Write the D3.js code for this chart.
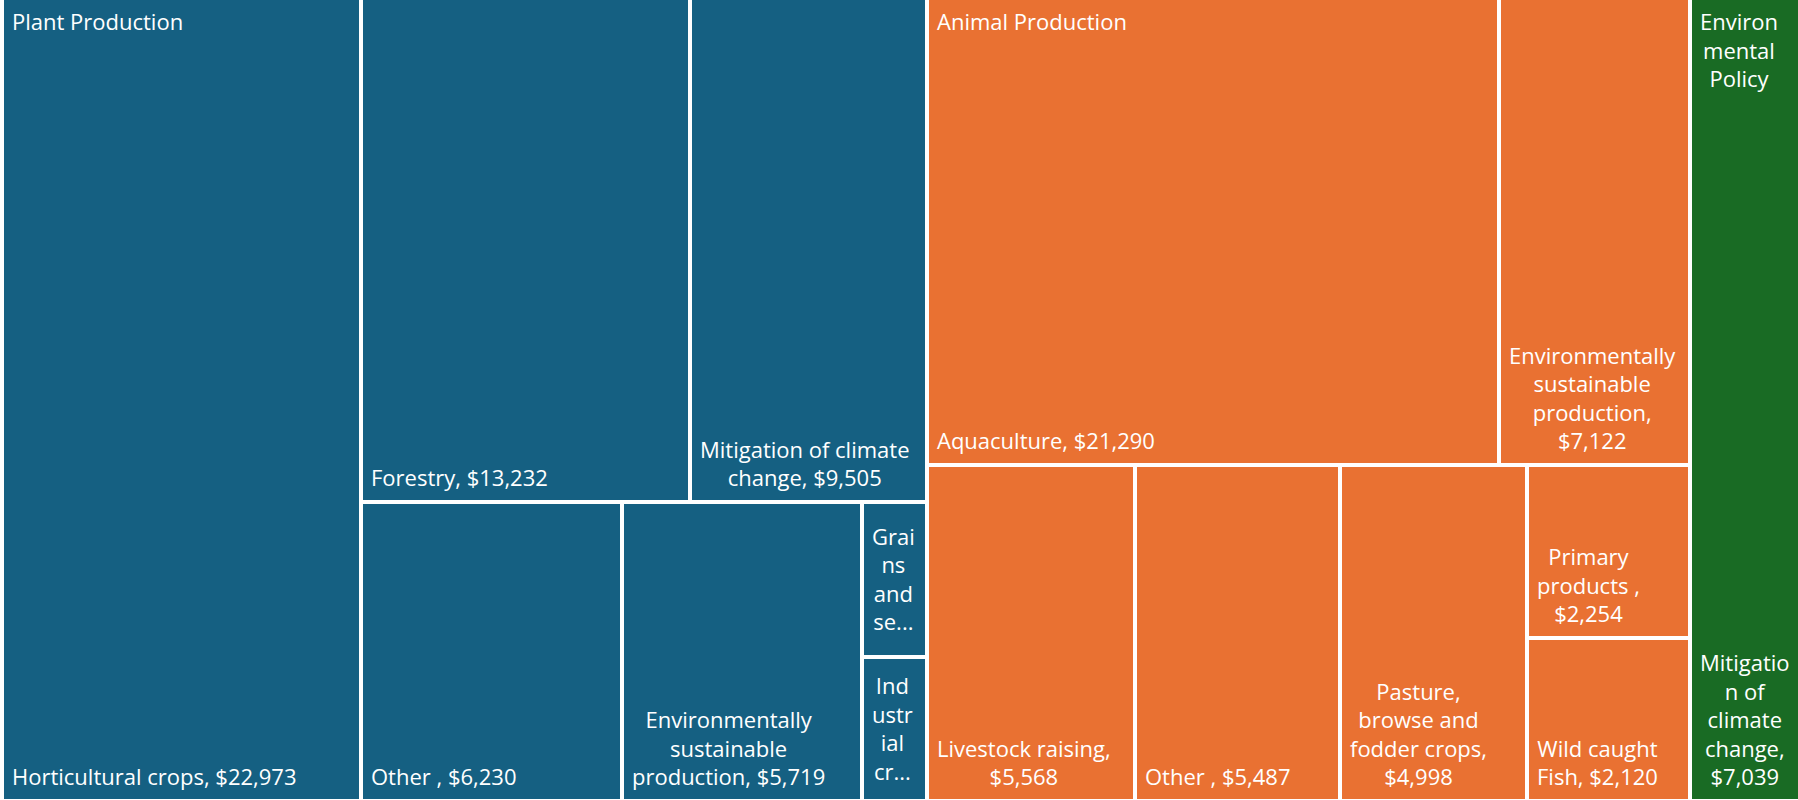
<!DOCTYPE html>
<html>
<head>
<meta charset="utf-8">
<script src="https://cdn.jsdelivr.net/npm/d3@7"></script>
<style>
  html, body { margin: 0; padding: 0; background: #ffffff; }
  svg { display: block; }
</style>
</head>
<body>
<svg id="chart" width="1798" height="800"></svg>
<script>
// ---- Data -------------------------------------------------------------
const groupNames  = ["Plant Production", "Animal Production", "Environmental Policy"];
const groupColors = ["#156082", "#E97132", "#196B24"];

const plantCategories = ["Horticultural crops", "Forestry", "Mitigation of climate change", "Other ",
                         "Environmentally sustainable production", "Grains and seeds", "Industrial crops"];
const plantValues = [22973, 13232, 9505, 6230, 5719, 806, 749];

const animalCategories = ["Aquaculture", "Environmentally sustainable production", "Livestock raising", "Other ",
                          "Pasture,\nbrowse and\nfodder crops", "Primary products ", "Wild caught Fish"];
const animalValues = [21290, 7122, 5568, 5487, 4998, 2254, 2120];

const policyCategories = ["Mitigation of climate change"];
const policyValues = [7039];

// ---- Layout settings --------------------------------------------------
const WIDTH = 1798;
const LEFT = 4, BOTTOM_EDGE = 799;
const GAP = 4;
const FONT_SIZE = 22;
const FONT = `${FONT_SIZE}px "Open Sans"`;
const LINE_HEIGHT = 28.5;
const TEXT_X = 8;          // left inset of label blocks
const WRAP_INSET = 7.5;    // horizontal room kept free on each side when wrapping
const GROUP_BASELINE = 30; // first baseline of a group title below the group top
const LEAF_BOTTOM = 14;    // last baseline of a leaf label above the cell bottom
const PREFERRED_ASPECT = 0.85; // preferred width / height of a cell

const fmt = d3.format(",");

const data = {
  name: "root",
  children: [
    { name: groupNames[0], color: groupColors[0],
      children: plantCategories.map((c, i) => ({ name: c, value: plantValues[i] })) },
    { name: groupNames[1], color: groupColors[1],
      children: animalCategories.map((c, i) => ({ name: c, value: animalValues[i] })) },
    { name: groupNames[2], color: groupColors[2],
      children: policyCategories.map((c, i) => ({ name: c, value: policyValues[i] })) }
  ]
};

// ---- Strip tiling: rows laid along the shorter side, grown while cells get closer to the preferred shape
function badness(w, h) {
  const a = (w / h) / PREFERRED_ASPECT;
  return Math.max(a, 1 / a);
}
function rowWorst(nodes, sum, total, dx, dy, across) {
  let worst = 0;
  if (across) {
    const t = dy * sum / total;
    for (const n of nodes) worst = Math.max(worst, badness(dx * n.value / sum, t));
  } else {
    const t = dx * sum / total;
    for (const n of nodes) worst = Math.max(worst, badness(t, dy * n.value / sum));
  }
  return worst;
}
function tileStrips(parent, x0, y0, x1, y1) {
  const nodes = parent.children;
  let value = parent.value, i0 = 0;
  while (i0 < nodes.length) {
    const dx = x1 - x0, dy = y1 - y0, across = dx <= dy;
    let i1 = i0 + 1, sum = nodes[i0].value;
    let best = rowWorst(nodes.slice(i0, i1), sum, value, dx, dy, across);
    while (i1 < nodes.length) {
      const s = sum + nodes[i1].value;
      const w = rowWorst(nodes.slice(i0, i1 + 1), s, value, dx, dy, across);
      if (w > best) break;
      best = w; sum = s; i1++;
    }
    const row = { value: sum, children: nodes.slice(i0, i1) };
    if (across) d3.treemapDice(row, x0, y0, x1, value ? (y0 += dy * sum / value) : y1);
    else d3.treemapSlice(row, x0, y0, value ? (x0 += dx * sum / value) : x1, y1);
    value -= sum; i0 = i1;
  }
}

const root = d3.hierarchy(data)
  .sum(d => d.value || 0)
  .sort((a, b) => b.value - a.value);

d3.treemap()
  .size([WIDTH - LEFT, BOTTOM_EDGE])
  .paddingInner(GAP)
  .tile(tileStrips)
  .round(true)(root);

// ---- Text wrapping ----------------------------------------------------
const ctx = document.createElement("canvas").getContext("2d");
ctx.font = FONT;
const measure = s => ctx.measureText(s).width;

function wrap(text, maxW, maxLines) {
  const lines = [];
  for (const para of text.split("\n")) {
    let line = "";
    for (const word of para.split(/\s+/).filter(Boolean)) {
      const candidate = line ? line + " " + word : word;
      if (measure(candidate) <= maxW) { line = candidate; continue; }
      if (line) { lines.push(line); line = ""; }
      if (measure(word) <= maxW) { line = word; continue; }
      let rest = word;
      while (rest.length > 1 && measure(rest) > maxW) {
        let k = 1;
        while (k < rest.length && measure(rest.slice(0, k + 1)) <= maxW) k++;
        lines.push(rest.slice(0, k));
        rest = rest.slice(k);
      }
      line = rest;
    }
    if (line) lines.push(line);
  }
  let truncated = false;
  if (maxLines && lines.length > maxLines) {
    truncated = true;
    lines.length = maxLines;
    let last = lines[maxLines - 1];
    while (last.length && measure(last + "...") > maxW) last = last.slice(0, -1);
    lines[maxLines - 1] = last + "...";
  }
  return { lines, truncated };
}

// ---- Drawing ----------------------------------------------------------
const svg = d3.select("#chart");
const g = svg.append("g").attr("transform", `translate(${LEFT},0)`);

const leaves = root.leaves();

g.selectAll("rect.cell")
  .data(leaves)
  .join("rect")
  .attr("class", "cell")
  .attr("x", d => d.x0)
  .attr("y", d => d.y0)
  .attr("width", d => d.x1 - d.x0)
  .attr("height", d => d.y1 - d.y0)
  .attr("fill", d => d.parent.data.color);

function drawBlock(sel, lines, x0, firstBaseline) {
  const blockW = d3.max(lines, measure) || 0;
  const cx = x0 + blockW / 2;
  const t = sel.append("text")
    .attr("fill", "#ffffff")
    .attr("font-family", '"Open Sans", sans-serif')
    .attr("font-size", FONT_SIZE)
    .attr("text-anchor", "middle");
  lines.forEach((ln, i) => {
    t.append("tspan")
      .attr("x", cx)
      .attr("y", firstBaseline + i * LINE_HEIGHT)
      .text(ln);
  });
}

const labels = g.append("g");

// leaf labels: bottom of the cell, or centred when the text had to be cut short
leaves.forEach(d => {
  const w = d.x1 - d.x0, h = d.y1 - d.y0;
  const text = `${d.data.name}, $${fmt(d.value)}`;
  const maxLines = Math.max(1, Math.floor((h - 24) / LINE_HEIGHT));
  const { lines, truncated } = wrap(text, w - 2 * WRAP_INSET, maxLines);
  const first = truncated
    ? (d.y0 + d.y1) / 2 + 8 - (lines.length - 1) * LINE_HEIGHT / 2
    : d.y1 - LEAF_BOTTOM - (lines.length - 1) * LINE_HEIGHT;
  drawBlock(labels, lines, d.x0 + TEXT_X, first);
});

// group titles at the top-left of each group
root.children.forEach(d => {
  const w = d.x1 - d.x0;
  const { lines } = wrap(d.data.name, w - 2 * WRAP_INSET);
  drawBlock(labels, lines, d.x0 + TEXT_X, d.y0 + GROUP_BASELINE);
});
</script>
</body>
</html>
